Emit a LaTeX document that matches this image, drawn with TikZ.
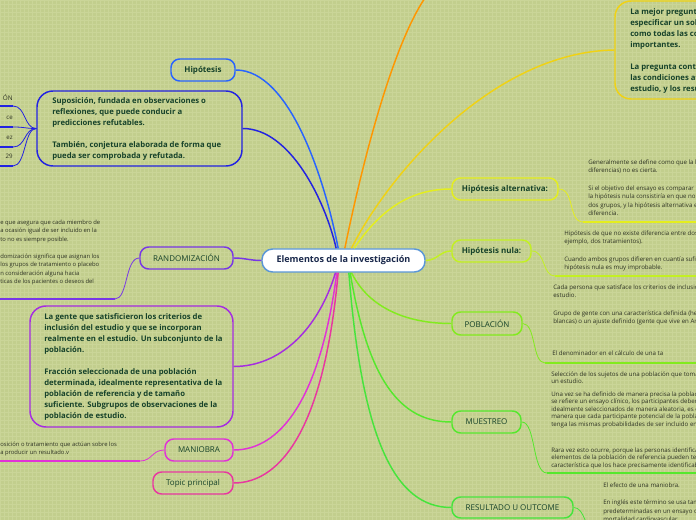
\documentclass[tikz,border=0pt]{standalone}
\usepackage{fontspec}
\setmainfont{Open Sans}
\definecolor{bg}{RGB}{194,206,141}
\definecolor{gridc}{RGB}{202,213,152}
\definecolor{tgreen}{RGB}{22,66,42}
\definecolor{tnavy}{RGB}{25,40,75}
\definecolor{leafc}{RGB}{45,50,35}
\definecolor{cblue}{RGB}{40,100,255}
\definecolor{cdblue}{RGB}{35,35,225}
\definecolor{corange}{RGB}{255,150,0}
\definecolor{cgold}{RGB}{240,210,20}
\definecolor{cyl}{RGB}{228,238,30}
\definecolor{clime}{RGB}{195,240,35}
\definecolor{cpob}{RGB}{130,235,30}
\definecolor{cmue}{RGB}{85,232,45}
\definecolor{cres}{RGB}{70,228,60}
\definecolor{cviol}{RGB}{120,55,230}
\definecolor{cpurp}{RGB}{165,45,225}
\definecolor{cmag}{RGB}{225,50,215}
\definecolor{cpink}{RGB}{232,55,160}
\definecolor{cctr}{RGB}{90,150,215}
\newcommand\mmnodefont{\fontsize{6}{8}\selectfont}
\newcommand\mmctrfont{\fontsize{6.8}{8}\selectfont\bfseries}
\newcommand\mmboxfont{\fontsize{5.8}{8.25}\selectfont\bfseries}
\newcommand\mmleaffont{\fontsize{4.6}{6.4}\selectfont}
\newcommand\mmleafleft{\fontsize{4.4}{6.4}\selectfont}
\newcommand\mmleafsmall{\fontsize{4.6}{5.6}\selectfont}
\begin{document}
\begin{tikzpicture}[x=0.75pt,y=-0.75pt,
 topic/.style={draw, line width=1.1pt, rounded corners=6.5pt, inner sep=0pt, text=tgreen, font=\mmnodefont, minimum height=16.5pt},
 btopic/.style={topic, font=\mmnodefont\bfseries},
 bigbox/.style={draw, line width=1.1pt, rounded corners=12pt, inner sep=0pt},
 boxtext/.style={anchor=north west, inner sep=0pt, align=left, text=tgreen, font=\mmboxfont},
 leaf/.style={anchor=north west, inner sep=0pt, align=left, text=leafc, font=\mmleaffont},
 conn/.style={line width=1.1pt},
 leafconn/.style={line width=0.6pt},
 uline/.style={line width=1.6pt},
]
\useasboundingbox (0,0) rectangle (696,520);
\clip (0,0) rectangle (696,520);
\fill[bg] (0,0) rectangle (696,520);
\draw[gridc, line width=0.5pt, step=3pt] (0,0) grid (696,520);

% nodes
\node[bigbox, draw=cctr, fill=white, rounded corners=8pt, minimum width=122.25pt, minimum height=17.25pt, text=tnavy, font=\mmctrfont] (ctr) at (343.5,260.5) {Elementos de la investigación};
\node[btopic, draw=cblue, minimum width=48pt] (hip) at (203,70) {Hipótesis};
\node[bigbox, draw=cdblue, minimum width=153.75pt, minimum height=56.25pt] (sup) at (139.5,128.5) {};
\node[boxtext] (suptxt) at (52,97) {Suposición, fundada en observaciones o\\reflexiones, que puede conducir a\\predicciones refutables.\\[8.25pt]También, conjetura elaborada de forma que\\pueda ser comprobada y refutada.};
\node[bigbox, draw=cgold, minimum width=116.25pt, minimum height=73.5pt] (ybox) at (692.5,50) {};
\node[boxtext] (ytxt) at (630,8) {La mejor pregunt\\especificar un sol\\como todas las co\\importantes.\\[8.25pt]La pregunta cont\\las condiciones af\\estudio, y los resu};
\node[bigbox, draw=cpurp, minimum width=152.25pt, minimum height=90.75pt] (pbox) at (131.5,366.5) {};
\node[boxtext] (ptxt) at (44,313) {La gente que satisficieron los criterios de\\inclusión del estudio y que se incorporan\\realmente en el estudio. Un subconjunto de la\\población.\\[8.25pt]Fracción seleccionada de una población\\determinada, idealmente representativa de la\\población de referencia y de tamaño\\suficiente. Subgrupos de observaciones de la\\población de estudio.};
\node[btopic, draw=cyl, minimum width=79.5pt] (alt) at (505,189) {Hipótesis alternativa:};
\node[btopic, draw=clime, minimum width=59.25pt] (nula) at (491.5,251) {Hipótesis nula:};
\node[topic, draw=cpob, minimum width=52.5pt, minimum height=17.25pt] (pob) at (487,323.5) {POBLACIÓN};
\node[topic, draw=cmue, minimum width=51.75pt] (mue) at (486.5,422) {MUESTREO};
\node[topic, draw=cres, minimum width=90.75pt, minimum height=15.75pt] (res) at (512.5,507.5) {RESULTADO U OUTCOME};
\node[topic, draw=cviol, minimum width=69.75pt] (rand) at (186.5,258) {RANDOMIZACIÓN};
\node[topic, draw=cmag, minimum width=51pt] (man) at (199,450) {MANIOBRA};
\node[topic, draw=cpink, minimum width=60pt] (tp) at (193,483) {Topic principal};

% main connectors
\coordinate (orEnd) at (427,-5);
\draw[conn, cblue] ([xshift=-4pt]ctr.north) .. controls (325,180) and (290,70) .. (hip.east);
\draw[conn, cdblue] ([xshift=-5.5pt]ctr.north) .. controls (325,200) and (290,128.5) .. (sup.east);
\draw[conn, corange] ([xshift=1pt]ctr.north) .. controls (365,150) and (395,40) .. (orEnd);
\draw[conn, cgold] ([xshift=6pt]ctr.north) .. controls (385,180) and (490,52) .. (ybox.west);
\draw[conn, cyl] ([xshift=8pt]ctr.north) .. controls (380,210) and (410,189) .. (alt.west);
\draw[conn, clime] (ctr.east) .. controls (438,260) and (440,251) .. (nula.west);
\draw[conn, cpob] ([xshift=6pt]ctr.south) .. controls (370,310) and (410,323.5) .. (pob.west);
\draw[conn, cmue] ([xshift=5pt]ctr.south) .. controls (368,380) and (400,422) .. (mue.west);
\draw[conn, cres] ([xshift=4pt]ctr.south) .. controls (362,440) and (395,507.5) .. (res.west);
\draw[conn, cpurp] ([xshift=-6pt]ctr.south) .. controls (318,330) and (280,366.5) .. (pbox.east);
\draw[conn, cmag] ([xshift=-5pt]ctr.south) .. controls (320,400) and (280,450) .. (man.east);
\draw[conn, cpink] ([xshift=-4pt]ctr.south) .. controls (324,430) and (280,483) .. (tp.east);
\draw[conn, cviol] (ctr.west) .. controls (250,260.5) and (245,258) .. (rand.east);

% leaf connectors
\coordinate (altA) at (583,222); \coordinate (altB) at (700,222);
\draw[leafconn, cyl] (alt.east) .. controls (575,189) and (568,222) .. (altA);
\draw[uline, cyl] (altA) -- (altB);
\coordinate (nulaA) at (555,276); \coordinate (nulaB) at (700,276);
\draw[leafconn, clime] (nula.east) .. controls (546,251) and (542,276) .. (nulaA);
\draw[uline, clime] (nulaA) -- (nulaB);
\coordinate (pobA) at (545,363); \coordinate (pobB) at (700,363);
\draw[leafconn, cpob] (pob.east) .. controls (536,323.5) and (532,363) .. (pobA);
\draw[uline, cpob] (pobA) -- (pobB);
\coordinate (mueA) at (547,473); \coordinate (mueB) at (700,473);
\draw[leafconn, cmue] (mue.east) .. controls (536,422) and (532,473) .. (mueA);
\draw[uline, cmue] (mueA) -- (mueB);
\coordinate (resA) at (595,535);
\draw[leafconn, cres] (res.east) .. controls (585,507.5) and (585,530) .. (resA);
\coordinate (randA) at (115,299); \coordinate (randB) at (-5,299);
\draw[leafconn, cviol] (rand.west) .. controls (125,258) and (128,299) .. (randA);
\draw[uline, cviol] (randA) -- (randB);
\coordinate (manA) at (140,461); \coordinate (manB) at (-5,461);
\draw[leafconn, cmag] (man.west) .. controls (152,450) and (152,461) .. (manA);
\draw[uline, cmag] (manA) -- (manB);
\foreach \yy/\nm in {106/s1,127/s2,147/s3,166/s4}{
  \coordinate (\nm A) at (13,\yy); \coordinate (\nm B) at (-5,\yy);
  \draw[leafconn, cdblue] (sup.west) .. controls (24,128.5) and (26,\yy) .. (\nm A);
  \draw[uline, cdblue] (\nm A) -- (\nm B);
}

% leaf texts
\node[leaf, anchor=base east, font=\fontsize{4.8}{6}\selectfont] (s1t) at (13,101) {ÓN};
\node[leaf, anchor=base east] (s2t) at (13,120) {ce};
\node[leaf, anchor=base east] (s3t) at (13,140) {ez};
\node[leaf, anchor=base east] (s4t) at (13,159) {29};
\node[leaf] (altleaf) at (588,159.5) {Generalmente se define como que la h\\diferencias) no es cierta.\\[6.4pt]Si el objetivo del ensayo es comparar u\\la hipótesis nula consistiría en que no h\\dos grupos, y la hipótesis alternativa e\\diferencia.};
\node[leaf] (nulaleaf) at (564,230.5) {Hipótesis de que no existe diferencia entre dos\\ejemplo, dos tratamientos).\\[6.4pt]Cuando ambos grupos difieren en cuantía sufic\\hipótesis nula es muy improbable.};
\node[leaf] (pobleaf) at (553,284.5) {Cada persona que satisface los criterios de inclusió\\estudio.\\[6.4pt]Grupo de gente con una característica definida (her\\blancas) o un ajuste definido (gente que vive en And};
\node[leaf] (pobleaf2) at (552,350.5) {El denominador en el cálculo de una ta};
\node[leaf, font=\mmleafsmall] (mueleaf1) at (551,371.5) {Selección de los sujetos de una población que tomarán\\un estudio.};
\node[leaf, font=\mmleafsmall] (mueleaf2) at (551,391.5) {Una vez se ha definido de manera precisa la población\\se refiere un ensayo clínico, los participantes deben se\\idealmente seleccionados de manera aleatoria, es dec\\manera que cada participante potencial de la població\\tenga las mismas probabilidades de ser incluido en la};
\node[leaf, font=\mmleafsmall] (mueleaf3) at (551,447.5) {Rara vez esto ocurre, porque las personas identificada\\elementos de la población de referencia pueden tener\\característica que los hace precisamente identificables};
\node[leaf] (resleaf) at (603,482.5) {El efecto de una maniobra.\\[6.4pt]En inglés este término se usa tam\\predeterminadas en un ensayo cl\\mortalidad cardiovascular};
\node[leaf, font=\mmleafleft] (randleaf) at (0,219.5) {e que asegura que cada miembro de\\a ocasión igual de ser incluido en la\\to no es siempre posible.\\[6.4pt]domización significa que asignan los\\ los grupos de tratamiento o placebo\\n consideración alguna hacia\\ticas de los pacientes o deseos del};
\node[leaf, font=\mmleafleft] (manleaf) at (0,441.5) {osición o tratamiento que actúan sobre los\\a producir un resultado.v};
\end{tikzpicture}
\end{document}
